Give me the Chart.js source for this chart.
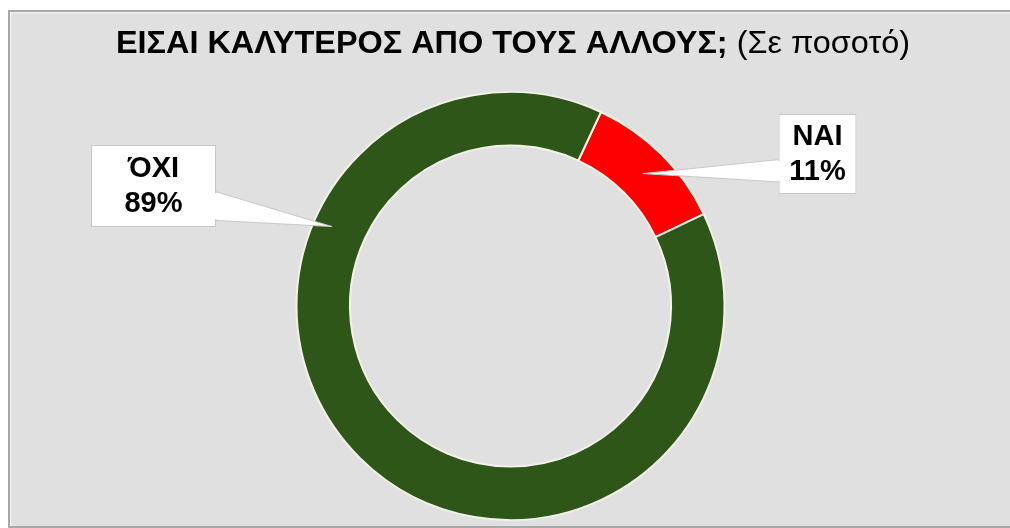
<!DOCTYPE html>
<html>
<head>
  <title>Doughnut</title>
  <style>
    html, body {
      margin: 0;
      padding: 0;
      width: 1010px;
      height: 528px;
      background-color: #ffffff;
      overflow: hidden;
    }

    .frame {
      position: absolute;
      left: 8px;
      top: 10px;
      right: -10px;
      height: 514px;
      background-color: #e0e0e0;
      border-top: 2px solid #a8a8a8;
      border-left: 2px solid #a8a8a8;
      border-bottom: 2px solid #a8a8a8;
      box-shadow: inset 1px 1px 2px rgba(255, 255, 255, 0.8);
    }

    #pie {
      position: absolute;
      left: 0;
      top: 0;
    }
  </style>
  <script src="https://cdn.jsdelivr.net/npm/chart.js"></script>
</head>
<body>
<div class="frame"></div>
<canvas id="pie" width="1010" height="528"></canvas>

<script>
  // values
  const labels = ['ΝΑΙ', 'ΌΧΙ'];
  const values = [11, 89];
  const colors = ['#ff0000', '#2d5618'];

  const titleBold = 'ΕΙΣΑΙ ΚΑΛΥΤΕΡΟΣ ΑΠΟ ΤΟΥΣ ΑΛΛΟΥΣ;';
  const titleNormal = ' (Σε ποσοτό)';

  // where the callouts sit: angle of the pointer tip (deg, clockwise from top)
  // and the box centre relative to the doughnut centre
  const callouts = [
    { tipAngle: 45, box: { dx: 307, dy: -152, w: 78, h: 80 } },
    { tipAngle: 294, box: { dx: -357, dy: -120, w: 125, h: 82 } }
  ];

  // title drawn with mixed weights
  const titlePlugin = {
    id: 'mixedTitle',
    afterDraw(chart) {
      const ctx = chart.ctx;
      const boldFont = 'bold 31px "Liberation Sans", Arial, sans-serif';
      const normFont = '31px "Liberation Sans", Arial, sans-serif';
      ctx.save();
      ctx.textBaseline = 'middle';
      ctx.fillStyle = '#000';
      ctx.font = boldFont;
      const w1 = ctx.measureText(titleBold).width;
      ctx.font = normFont;
      const w2 = ctx.measureText(titleNormal).width;
      // squeeze a little to match the narrow original lettering
      const sx = 794 / (w1 + w2);
      ctx.translate(513, 44);
      ctx.scale(sx, 1);
      let x = -(w1 + w2) / 2;
      ctx.font = boldFont;
      ctx.fillText(titleBold, x, 0);
      ctx.font = normFont;
      ctx.fillText(titleNormal, x + w1, 0);
      ctx.restore();
    }
  };

  // callout boxes with pointer to the ring
  const calloutPlugin = {
    id: 'callouts',
    afterDatasetsDraw(chart) {
      const ctx = chart.ctx;
      const meta = chart.getDatasetMeta(0);
      const total = values.reduce((a, b) => a + b, 0);
      meta.data.forEach((arc, i) => {
        const c = callouts[i];
        const r = (arc.innerRadius + arc.outerRadius) / 2 + (i === 1 ? 8 : 0);
        const a = (c.tipAngle - 90) * Math.PI / 180;
        const tx = arc.x + r * Math.cos(a);
        const ty = arc.y + r * Math.sin(a);
        const bx = arc.x + c.box.dx - c.box.w / 2;
        const by = arc.y + c.box.dy - c.box.h / 2;
        const bw = c.box.w, bh = c.box.h;

        ctx.save();
        ctx.fillStyle = '#ffffff';
        ctx.strokeStyle = '#c8c8c8';
        ctx.lineWidth = 1;
        // pointer
        ctx.beginPath();
        if (tx > bx + bw) {
          ctx.moveTo(bx + bw, by + bh * 0.57);
          ctx.lineTo(tx, ty);
          ctx.lineTo(bx + bw, by + bh * 0.92);
        } else {
          ctx.moveTo(bx, by + bh * 0.57);
          ctx.lineTo(tx, ty);
          ctx.lineTo(bx, by + bh * 0.85);
        }
        ctx.closePath();
        ctx.fill();
        ctx.stroke();
        // box
        ctx.fillRect(bx, by, bw, bh);
        ctx.strokeRect(bx + 0.5, by + 0.5, bw - 1, bh - 1);
        // cover the joint
        ctx.beginPath();
        if (tx > bx + bw) {
          ctx.moveTo(bx + bw - 2, by + bh * 0.57 + 1);
          ctx.lineTo(bx + bw + 3, by + bh * 0.6);
          ctx.lineTo(bx + bw + 3, by + bh * 0.9);
          ctx.lineTo(bx + bw - 2, by + bh * 0.92 - 1);
        } else {
          ctx.moveTo(bx + 2, by + bh * 0.57 + 1);
          ctx.lineTo(bx - 3, by + bh * 0.6);
          ctx.lineTo(bx - 3, by + bh * 0.83);
          ctx.lineTo(bx + 2, by + bh * 0.85 - 1);
        }
        ctx.closePath();
        ctx.fill();

        ctx.fillStyle = '#000';
        ctx.font = 'bold 29px "Liberation Sans", Arial, sans-serif';
        ctx.textAlign = 'center';
        ctx.textBaseline = 'middle';
        const pct = Math.round(values[i] / total * 100) + '%';
        ctx.fillText(labels[i], bx + bw / 2, by + bh / 2 - 17);
        ctx.fillText(pct, bx + bw / 2, by + bh / 2 + 18);
        ctx.restore();
      });
    }
  };

  new Chart(document.getElementById('pie'), {
    type: 'doughnut',
    data: {
      labels: labels,
      datasets: [{
        data: values,
        backgroundColor: colors,
        borderColor: '#f2f2e8',
        borderWidth: 2
      }]
    },
    options: {
      responsive: false,
      animation: false,
      rotation: 25,
      cutout: '75%',
      layout: {
        padding: { top: 91, bottom: 7, left: 11, right: 0 }
      },
      plugins: {
        legend: { display: false },
        title: { display: false },
        tooltip: { enabled: false }
      }
    },
    plugins: [titlePlugin, calloutPlugin]
  });
</script>
</body>
</html>
